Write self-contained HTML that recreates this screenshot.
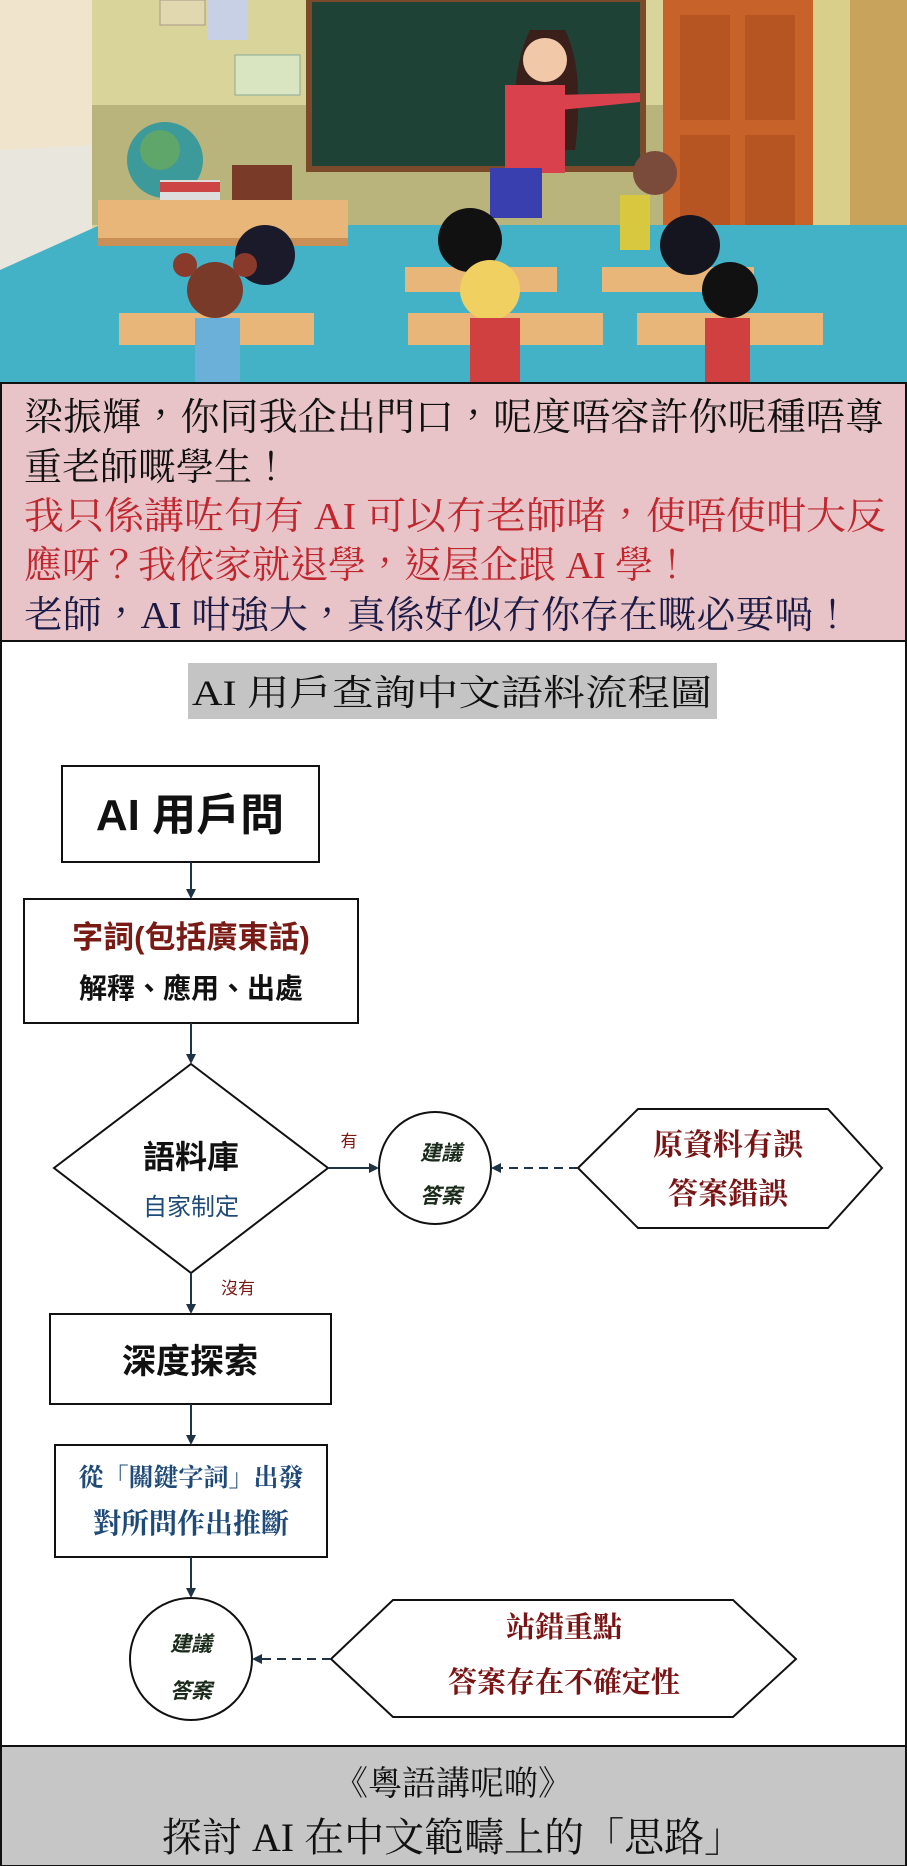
<!DOCTYPE html>
<html><head><meta charset="utf-8"><style>
html,body{margin:0;padding:0;background:#fff;}
body{width:907px;height:1866px;position:relative;overflow:hidden;}
svg{position:absolute;left:0;top:0;}
.serif{font-family:"Liberation Serif","Noto Serif CJK TC","Noto Serif CJK SC",serif;}
.sans{font-family:"Liberation Sans","Noto Sans CJK TC","Noto Sans CJK SC",sans-serif;}
</style></head><body>
<svg width="907" height="1866" viewBox="0 0 907 1866" xmlns="http://www.w3.org/2000/svg">
<defs>
<marker id="ah" markerWidth="10" markerHeight="10" refX="8" refY="5" orient="auto" markerUnits="userSpaceOnUse"><path d="M0,0 L10,5 L0,10 z" fill="#1f3345"/></marker>
</defs>
<rect x="0" y="0" width="907" height="383" fill="#d8d49a"/>
<rect x="0" y="105" width="907" height="120" fill="#b9b47c"/>
<rect x="0" y="0" width="92" height="240" fill="#f1e4cc"/>
<polygon points="0,150 92,145 92,240 0,270" fill="#e9e6dd"/>
<rect x="160" y="0" width="45" height="25" fill="#e2d8b0" stroke="#a98" />
<rect x="207" y="0" width="40" height="40" fill="#c8d0e6"/>
<rect x="235" y="55" width="65" height="40" fill="#d9e5c0" stroke="#8a9"/>
<rect x="306" y="0" width="340" height="172" fill="#7a4a2a"/>
<rect x="312" y="2" width="328" height="164" fill="#1f4237"/>
<rect x="663" y="0" width="150" height="248" fill="#c7622a"/>
<rect x="680" y="15" width="50" height="105" fill="#b65522"/><rect x="745" y="15" width="50" height="105" fill="#b65522"/>
<rect x="680" y="135" width="50" height="95" fill="#b65522"/><rect x="745" y="135" width="50" height="95" fill="#b65522"/>
<rect x="813" y="0" width="94" height="260" fill="#d9cf8a"/>
<rect x="850" y="0" width="57" height="300" fill="#c8a35c"/>
<polygon points="0,270 100,225 907,225 907,383 0,383" fill="#43b2c7"/>
<circle cx="165" cy="160" r="38" fill="#3c9a9a"/><circle cx="160" cy="150" r="20" fill="#5ea66a"/>
<rect x="160" y="180" width="60" height="45" fill="#ddd"/><rect x="160" y="182" width="60" height="10" fill="#c44"/>
<rect x="232" y="165" width="60" height="40" fill="#7a3a28"/>
<rect x="98" y="200" width="250" height="40" fill="#e9b679"/><rect x="98" y="238" width="250" height="8" fill="#c98f55"/>
<path d="M530,30 q-20,40 -15,120 l60,0 q10,-80 -10,-120 z" fill="#3a1f1a"/>
<circle cx="545" cy="60" r="22" fill="#f2c9a8"/>
<rect x="505" y="85" width="60" height="88" fill="#d9414d"/>
<polygon points="555,95 640,93 640,102 560,110" fill="#d9414d"/>
<rect x="490" y="168" width="52" height="50" fill="#3a3fb0"/>
<circle cx="655" cy="173" r="22" fill="#7a4a3a"/><rect x="620" y="195" width="30" height="55" fill="#d8c840"/>
<rect x="405" y="267" width="152" height="25" fill="#e9b679"/>
<rect x="602" y="267" width="152" height="25" fill="#e9b679"/>
<rect x="119" y="313" width="195" height="32" fill="#e9b679"/>
<rect x="408" y="313" width="195" height="32" fill="#e9b679"/>
<rect x="637" y="313" width="186" height="32" fill="#e9b679"/>
<circle cx="265" cy="255" r="30" fill="#1a1a2a"/>
<circle cx="470" cy="240" r="32" fill="#111"/>
<circle cx="690" cy="245" r="30" fill="#151520"/>
<circle cx="215" cy="290" r="28" fill="#7a3a2a"/><circle cx="185" cy="265" r="12" fill="#8a3a2a"/><circle cx="245" cy="265" r="12" fill="#8a3a2a"/>
<circle cx="490" cy="290" r="30" fill="#f0d060"/>
<circle cx="730" cy="290" r="28" fill="#111"/>
<rect x="195" y="318" width="45" height="65" fill="#6ab0d8"/>
<rect x="470" y="318" width="50" height="65" fill="#d04040"/>
<rect x="705" y="318" width="45" height="65" fill="#d04040"/>
<rect x="1" y="383" width="905" height="258" fill="#e8c4c8" stroke="#111" stroke-width="2"/>
<g class="serif" font-size="38">
<text x="24" y="430" fill="#111" textLength="860" lengthAdjust="spacingAndGlyphs">梁振輝，你同我企出門口，呢度唔容許你呢種唔尊</text>
<text x="24" y="480" fill="#111">重老師嘅學生！</text>
<text x="24" y="529" fill="#c0262e" textLength="862" lengthAdjust="spacingAndGlyphs">我只係講咗句有 AI 可以冇老師啫，使唔使咁大反</text>
<text x="24" y="578" fill="#c0262e">應呀？我依家就退學，返屋企跟 AI 學！</text>
<text x="24" y="628" fill="#1a1a44" textLength="828" lengthAdjust="spacingAndGlyphs">老師，AI 咁強大，真係好似冇你存在嘅必要喎！</text>
</g>
<line x1="1" y1="641" x2="1" y2="1866" stroke="#111" stroke-width="2"/>
<line x1="906" y1="641" x2="906" y2="1866" stroke="#111" stroke-width="2"/>
<rect x="188" y="663" width="529" height="56" fill="#c4c4c4"/>
<text class="serif" x="452" y="705" font-size="36" text-anchor="middle" fill="#111" textLength="520" lengthAdjust="spacingAndGlyphs">AI 用戶查詢中文語料流程圖</text>
<g stroke="#111" stroke-width="2" fill="#fff">
<rect x="62" y="766" width="257" height="96"/>
<rect x="24" y="899" width="334" height="124"/>
<polygon points="191,1064 328,1168 191,1273 54,1168"/>
<circle cx="435" cy="1168" r="56"/>
<polygon points="578,1168 638,1109 828,1109 882,1168 828,1228 638,1228"/>
<rect x="50" y="1314" width="281" height="90"/>
<rect x="55" y="1445" width="272" height="112"/>
<circle cx="191" cy="1659" r="61"/>
<polygon points="331,1659 393,1600 733,1600 796,1659 733,1717 393,1717"/>
</g>
<g stroke="#1f3345" stroke-width="2" fill="none">
<line x1="191" y1="862" x2="191" y2="897" marker-end="url(#ah)"/>
<line x1="191" y1="1023" x2="191" y2="1062" marker-end="url(#ah)"/>
<line x1="328" y1="1168" x2="377" y2="1168" marker-end="url(#ah)"/>
<line x1="578" y1="1168" x2="493" y2="1168" stroke-dasharray="9,6" marker-end="url(#ah)"/>
<line x1="191" y1="1273" x2="191" y2="1312" marker-end="url(#ah)"/>
<line x1="191" y1="1404" x2="191" y2="1443" marker-end="url(#ah)"/>
<line x1="191" y1="1557" x2="191" y2="1596" marker-end="url(#ah)"/>
<line x1="331" y1="1659" x2="254" y2="1659" stroke-dasharray="9,6" marker-end="url(#ah)"/>
</g>
<g class="sans" font-weight="bold" text-anchor="middle">
<text x="190" y="830" font-size="44" fill="#111">AI 用戶問</text>
<text x="191" y="948" font-size="31" fill="#7a1a14">字詞(包括廣東話)</text>
<text x="191" y="998" font-size="28" fill="#111">解釋、應用、出處</text>
<text x="191" y="1168" font-size="32" fill="#111">語料庫</text>
<text x="191" y="1215" font-size="24" fill="#1e4a7a" font-weight="normal">自家制定</text>
<text x="349" y="1147" font-size="17" fill="#7a1a14" font-weight="normal">有</text>
<text x="238" y="1294" font-size="17" fill="#7a1a14" font-weight="normal">沒有</text>
<text x="441" y="1160" font-size="21" fill="#1a2a1a" font-style="italic">建議</text>
<text x="441" y="1203" font-size="21" fill="#1a2a1a" font-style="italic">答案</text>
<text x="190" y="1373" font-size="34" fill="#111">深度探索</text>
<text x="191" y="1651" font-size="21" fill="#1a2a1a" font-style="italic">建議</text>
<text x="191" y="1698" font-size="21" fill="#1a2a1a" font-style="italic">答案</text>
</g>
<g class="serif" font-weight="bold" text-anchor="middle">
<text x="728" y="1155" font-size="30" fill="#7a1414">原資料有誤</text>
<text x="728" y="1204" font-size="30" fill="#7a1414">答案錯誤</text>
<text x="191" y="1486" font-size="25" fill="#1e4a7a">從「關鍵字詞」出發</text>
<text x="191" y="1533" font-size="28" fill="#1e4a7a">對所問作出推斷</text>
<text x="564" y="1637" font-size="29" fill="#7a1414">站錯重點</text>
<text x="564" y="1692" font-size="29" fill="#7a1414">答案存在不確定性</text>
</g>
<rect x="1" y="1746" width="905" height="120" fill="#c6c6c6" stroke="#111" stroke-width="2"/>
<g class="serif" text-anchor="middle" fill="#111">
<text x="453" y="1795" font-size="34">《粵語講呢啲》</text>
<text x="453" y="1851" font-size="40">探討 AI 在中文範疇上的「思路」</text>
</g>
</svg>
</body></html>
